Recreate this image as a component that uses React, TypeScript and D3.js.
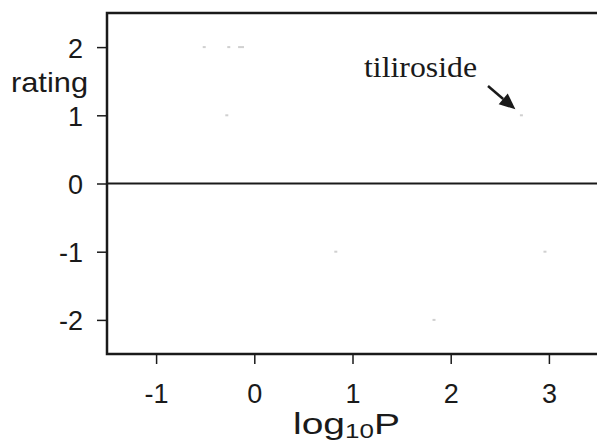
import React, { useEffect, useRef } from "react";
import * as d3 from "d3";

// log10P vs rating
const logP = [-0.51, -0.26, -0.15, -0.12, -0.28, 2.72, 0.83, 2.96, 1.83];
const ratings = [2, 2, 2, 2, 1, 1, -1, -1, -2];
const xTicks = [-1, 0, 1, 2, 3];
const yTicks = [-2, -1, 0, 1, 2];
const annotation = "tiliroside";

export default function App() {
  const ref = useRef<SVGSVGElement | null>(null);

  useEffect(() => {
    const svg = d3.select(ref.current);
    svg.selectAll("*").remove();

    const width = 597, height = 443;
    const left = 107, top = 13, bottom = 354, right = 598;
    const sans = "'Liberation Sans', Arial, sans-serif";
    const fmt = (d: any) => String(d); // plain hyphen for negatives

    const x = d3.scaleLinear().domain([-1.5, 3.5]).range([left, right]);
    const y = d3.scaleLinear().domain([-2.5, 2.5]).range([bottom, top]);

    svg.attr("width", width).attr("height", height);

    // points (very faint in the original)
    svg.append("g")
      .selectAll("rect")
      .data(logP)
      .enter()
      .append("rect")
      .attr("x", (d) => x(d) - 1.5)
      .attr("y", (d, i) => y(ratings[i]) - 1)
      .attr("width", 3)
      .attr("height", 2)
      .attr("fill", "#d0d0d0");

    // zero line
    svg.append("line")
      .attr("x1", left).attr("x2", right)
      .attr("y1", y(0)).attr("y2", y(0))
      .attr("stroke", "#1a1a1a").attr("stroke-width", 2);

    // frame
    svg.append("path")
      .attr("d", `M${right},${top}H${left}V${bottom}H${right}`)
      .attr("fill", "none")
      .attr("stroke", "#1a1a1a")
      .attr("stroke-width", 2.5);

    const xAxis = svg.append("g")
      .attr("transform", `translate(0,${bottom})`)
      .call(d3.axisBottom(x).tickValues(xTicks).tickSize(10).tickSizeOuter(0).tickFormat(fmt));
    xAxis.select(".domain").remove();
    xAxis.selectAll("line").attr("stroke", "#1a1a1a").attr("stroke-width", 1.5);
    xAxis.selectAll("text")
      .attr("y", 49).attr("dy", null)
      .attr("font-family", sans).attr("font-size", 27).attr("fill", "#1a1a1a");

    const yAxis = svg.append("g")
      .attr("transform", `translate(${left},0)`)
      .call(d3.axisLeft(y).tickValues(yTicks).tickSize(10).tickSizeOuter(0).tickFormat(fmt));
    yAxis.select(".domain").remove();
    yAxis.selectAll("line").attr("stroke", "#1a1a1a").attr("stroke-width", 1.5);
    yAxis.selectAll("text")
      .attr("x", -24).attr("dy", null).attr("y", 10)
      .attr("font-family", sans).attr("font-size", 27).attr("fill", "#1a1a1a");

    // axis titles
    svg.append("text")
      .attr("x", 11).attr("y", 92)
      .attr("font-family", sans).attr("font-size", 28).attr("fill", "#1a1a1a")
      .attr("textLength", 77).attr("lengthAdjust", "spacingAndGlyphs")
      .text("rating");

    // x title is wider than a plain Arial run in the original, so stretch it a little
    const xt = svg.append("text")
      .attr("transform", "translate(293,434) scale(1.3,1)")
      .attr("font-family", sans).attr("font-size", 30).attr("fill", "#1a1a1a");
    xt.append("tspan").text("log");
    xt.append("tspan").attr("font-size", 20).attr("dy", 4).text("10");
    xt.append("tspan").attr("dy", -4).text("P");

    // annotation
    svg.append("text")
      .attr("x", 364).attr("y", 77)
      .attr("font-family", "'Liberation Serif', 'Times New Roman', serif")
      .attr("font-size", 30).attr("fill", "#1a1a1a")
      .attr("textLength", 113).attr("lengthAdjust", "spacingAndGlyphs")
      .text(annotation);

    const ax0 = 488, ay0 = 86, ax1 = x(2.72) - 6, ay1 = y(1) - 6;
    const ang = Math.atan2(ay1 - ay0, ax1 - ax0);
    const headLen = 16, headW = 7;
    const bx = ax1 - headLen * Math.cos(ang), by = ay1 - headLen * Math.sin(ang);
    svg.append("line")
      .attr("x1", ax0).attr("y1", ay0).attr("x2", bx).attr("y2", by)
      .attr("stroke", "#1a1a1a").attr("stroke-width", 2.5);
    svg.append("path")
      .attr("d", `M${ax1},${ay1}L${bx + headW * Math.sin(ang)},${by - headW * Math.cos(ang)}L${bx - headW * Math.sin(ang)},${by + headW * Math.cos(ang)}Z`)
      .attr("fill", "#1a1a1a");
  }, []);

  return (
    <svg ref={ref} style={{ position: "absolute", left: 0, top: 0, background: "#fff" }} />
  );
}
